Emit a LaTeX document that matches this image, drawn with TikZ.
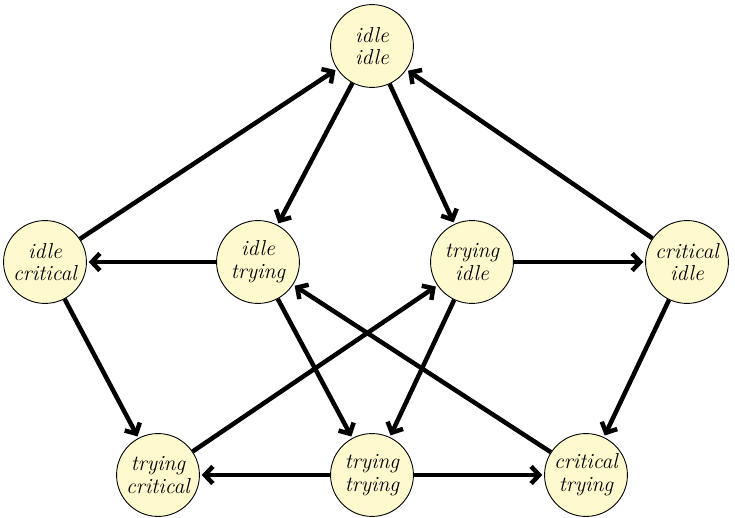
\documentclass[tikz,border=0pt]{standalone}
\usetikzlibrary{arrows.meta}
\definecolor{nodefill}{RGB}{255,250,205}
\begin{document}
\begin{tikzpicture}[x=0.555pt,y=-0.555pt,
  state/.style={circle,draw=black,line width=0.5pt,fill=nodefill,minimum size=46pt,inner sep=0pt,align=center,font=\fontsize{12}{12.6}\selectfont\itshape},
  edge/.style={line width=2.5pt,-{Straight Barb[length=4.5pt,width=9.5pt]},shorten >=1pt}]
\useasboundingbox (0,0) rectangle (735,518);
\node[state] (ii) at (372,46) {idle\\idle};
\node[state] (ic) at (45,262) {idle\\critical};
\node[state] (it) at (258,262) {idle\\trying};
\node[state] (ti) at (472,262) {trying\\idle};
\node[state] (ci) at (687,262) {critical\\idle};
\node[state] (tc) at (158,475) {trying\\critical};
\node[state] (tt) at (372,475) {trying\\trying};
\node[state] (ct) at (586,475) {critical\\trying};
\draw[edge] (ic) -- (ii);
\draw[edge] (ii) -- (it);
\draw[edge] (ii) -- (ti);
\draw[edge] (ci) -- (ii);
\draw[edge] (it) -- (ic);
\draw[edge] (ti) -- (ci);
\draw[edge] (ic) -- (tc);
\draw[edge] (ci) -- (ct);
\draw[edge] (tc) -- (ti);
\draw[edge] (ct) -- (it);
\draw[edge] (it) -- (tt);
\draw[edge] (ti) -- (tt);
\draw[edge] (tt) -- (tc);
\draw[edge] (tt) -- (ct);
\end{tikzpicture}
\end{document}
